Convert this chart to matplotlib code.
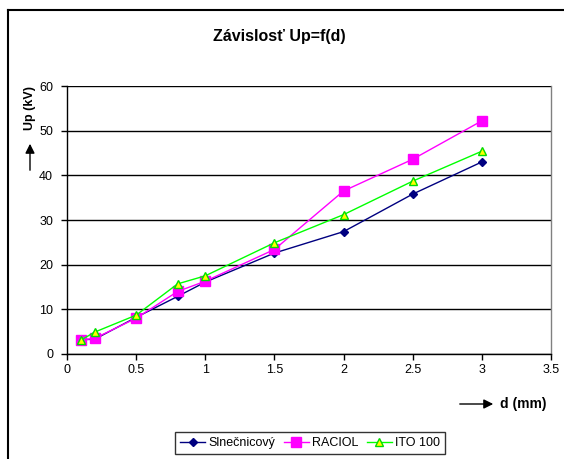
import matplotlib
matplotlib.use("Agg")
import matplotlib.pyplot as plt
from matplotlib.lines import Line2D

plt.rcParams['font.family'] = ['Liberation Sans', 'DejaVu Sans']

d = [0.1, 0.2, 0.5, 0.8, 1.0, 1.5, 2.0, 2.5, 3.0]
slnecnicovy = [3.2, 3.3, 8.2, 12.9, 16.1, 22.6, 27.4, 35.8, 43.0]
raciol = [3.1, 3.5, 8.0, 14.0, 16.3, 23.4, 36.5, 43.6, 52.2]
ito100 = [3.1, 4.9, 8.7, 15.7, 17.5, 24.9, 31.2, 38.7, 45.4]

x_ticks = [0, 0.5, 1, 1.5, 2, 2.5, 3, 3.5]
x_tick_labels = ['0', '0.5', '1', '1.5', '2', '2.5', '3', '3.5']
y_ticks = [0, 10, 20, 30, 40, 50, 60]

W, H = 564, 459
fig = plt.figure(figsize=(W / 100, H / 100), dpi=100)
ax = fig.add_axes([67 / W, 1 - 354 / H, (551 - 67) / W, (354 - 86) / H])

ax.plot(d, slnecnicovy, color='#000080', lw=1, marker='D', ms=4.5,
        mfc='#000080', mec='#000080', label='Slnečnicový')
ax.plot(d, raciol, color='#FF00FF', lw=1, marker='s', ms=6.5,
        mfc='#FF00FF', mec='#FF00FF', label='RACIOL')
ax.plot(d, ito100, color='#00FF00', lw=1, marker='^', ms=6,
        mfc='#FFFF00', mec='#00DD00', mew=1, label='ITO 100')

ax.set_xlim(0, 3.5)
ax.set_ylim(0, 60)
ax.set_xticks(x_ticks)
ax.set_xticklabels(x_tick_labels)
ax.set_yticks(y_ticks)
ax.yaxis.grid(True, color='black', lw=1)
ax.set_axisbelow(True)
ax.tick_params(axis='both', direction='out', length=4, width=1, labelsize=9, pad=3)
ax.tick_params(axis='y', pad=6)
ax.spines['right'].set_color('#808080')
ax.spines['right'].set_linewidth(1)
ax.spines['top'].set_visible(False)
for s in ['left', 'bottom']:
    ax.spines[s].set_color('black')
    ax.spines[s].set_linewidth(1)

# Outer chart border (left and top)
fig.add_artist(Line2D([8 / W, 8 / W], [0, 1 - 10 / H], transform=fig.transFigure,
                      color='black', lw=1.5))
fig.add_artist(Line2D([8 / W, 1], [1 - 10 / H, 1 - 10 / H], transform=fig.transFigure,
                      color='black', lw=1.5))

# Title
fig.text(279 / W, 1 - 37 / H, 'Závislosť Up=f(d)', ha='center', va='center',
         fontsize=11.5, fontweight='bold')

# Y axis label with arrow
fig.text(30 / W, 1 - 108 / H, 'Up (kV)', rotation=90, ha='center', va='center',
         fontsize=9, fontweight='bold')
fig.add_artist(matplotlib.patches.FancyArrowPatch(
    (30 / W, 1 - 173 / H), (30 / W, 1 - 141 / H), transform=fig.transFigure,
    arrowstyle='-|>', mutation_scale=14, color='black', lw=1))

# X axis label with arrow
fig.text(500 / W, 1 - 404 / H, 'd (mm)', ha='left', va='center',
         fontsize=10, fontweight='bold')
fig.add_artist(matplotlib.patches.FancyArrowPatch(
    (457 / W, 1 - 404 / H), (496 / W, 1 - 404 / H), transform=fig.transFigure,
    arrowstyle='-|>', mutation_scale=14, color='black', lw=1))

leg = fig.legend(loc='center', bbox_to_anchor=(310 / W, 1 - 443 / H), ncol=3,
                 fontsize=9, frameon=True, fancybox=False, edgecolor='black',
                 handlelength=2.0, handletextpad=0.25, columnspacing=0.7,
                 borderpad=0.4)
leg.get_frame().set_linewidth(1)

fig.savefig('out.png', dpi=100)
